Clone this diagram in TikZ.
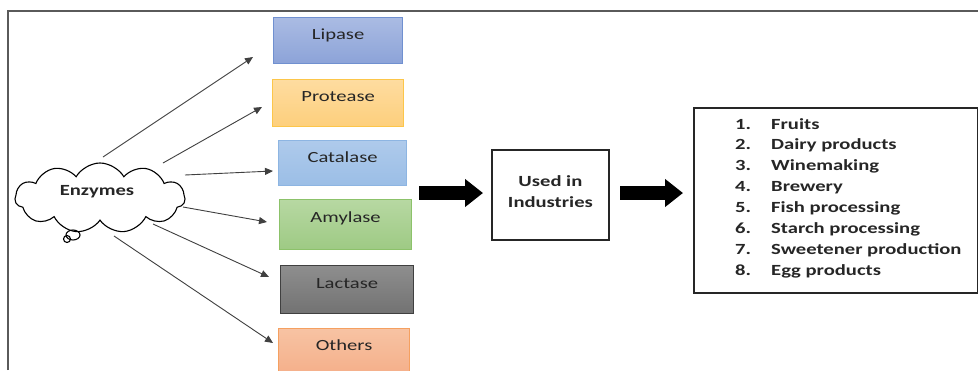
\documentclass[tikz,border=0pt]{standalone}
\usepackage{fontspec}
\setmainfont{Carlito}[FakeStretch=1.33]
\usetikzlibrary{shapes.symbols,arrows.meta,calc}
\definecolor{lipT}{HTML}{AABBE3}\definecolor{lipB}{HTML}{8CA3D8}\definecolor{lipD}{HTML}{7090D0}
\definecolor{proT}{HTML}{FEDCA0}\definecolor{proB}{HTML}{FDCF7C}\definecolor{proD}{HTML}{FCC64A}
\definecolor{catT}{HTML}{AECAEB}\definecolor{catB}{HTML}{9BBEE6}\definecolor{catD}{HTML}{8DB5E2}
\definecolor{amyT}{HTML}{B7D8A2}\definecolor{amyB}{HTML}{9ECA84}\definecolor{amyD}{HTML}{8CC26A}
\definecolor{lacT}{HTML}{8E8E8E}\definecolor{lacB}{HTML}{727272}\definecolor{lacD}{HTML}{404040}
\definecolor{othT}{HTML}{F7C3A3}\definecolor{othB}{HTML}{F4A982}\definecolor{othD}{HTML}{F5A060}
\definecolor{txt}{HTML}{262626}
\definecolor{frame}{HTML}{5A5A5A}
\begin{document}
\begin{tikzpicture}[x=1pt,y=-1pt,
  ebox/.style={line width=1.2pt, anchor=north west, inner sep=0pt},
  elabel/.style={text=txt, font=\fontsize{15.5}{19}\selectfont, inner sep=0pt},
  thin/.style={draw=black!75, line width=0.9pt, -{Triangle[length=8pt,width=7pt]}},
  bigarrow/.style={draw=black, line width=14pt, -{Triangle[length=18pt,width=27pt]}},
  heavybox/.style={draw=black!85, line width=1.8pt, anchor=north west, inner sep=0pt}
]
\useasboundingbox (0,0) rectangle (978,370);
\fill[white] (0,0) rectangle (978,370);
\begin{scope}
\clip (0,0) rectangle (978,370);
% outer frame
\draw[frame, line width=1.5pt] (8,370) -- (8,11) -- (978,11);

% enzyme boxes
\node[ebox, draw=lipD, top color=lipT, bottom color=lipB, minimum width=129pt, minimum height=46pt] (lipase) at (273,17) {};
\node[ebox, draw=proD, top color=proT, bottom color=proB, minimum width=131pt, minimum height=47pt] (protease) at (272,79) {};
\node[ebox, draw=catD, top color=catT, bottom color=catB, minimum width=128pt, minimum height=45pt] (catalase) at (278,140) {};
\node[ebox, draw=amyD, top color=amyT, bottom color=amyB, minimum width=132pt, minimum height=50pt] (amylase) at (279,199) {};
\node[ebox, draw=lacD, top color=lacT, bottom color=lacB, minimum width=133pt, minimum height=48pt] (lactase) at (280,265) {};
\node[ebox, draw=othD, top color=othT, bottom color=othB, minimum width=131pt, minimum height=60pt] (others) at (278,328) {};

\node[elabel] (lipaseT) at ($(lipase.north)+(0,18)$) {Lipase};
\node[elabel] (proteaseT) at ($(protease.north)+(0,18)$) {Protease};
\node[elabel] (catalaseT) at ($(catalase.north)+(0,17)$) {Catalase};
\node[elabel] (amylaseT) at ($(amylase.north)+(0,19)$) {Amylase};
\node[elabel] (lactaseT) at ($(lactase.north)+(0,19)$) {Lactase};
\node[elabel] (othersT) at ($(others.north)+(0,17)$) {Others};

% cloud
\node[cloud, draw=black, line width=1.1pt, cloud puffs=11, cloud puff arc=120, aspect=2.4,
      minimum width=170pt, minimum height=70pt, inner sep=0pt] (cloud) at (100,198) {};
\node[font=\fontsize{15.5}{19}\selectfont\bfseries, text=txt, inner sep=0pt] (enz) at (97,192) {Enzymes};
\draw[black, line width=1.1pt] (73,235) ellipse [x radius=7, y radius=5];
\draw[black, line width=1.1pt] (67,239) circle [radius=3.5];

% thin arrows
\coordinate (s1) at (103,157); \coordinate (e1) at (253,57);
\coordinate (s2) at (163,163); \coordinate (e2) at (262,107);
\coordinate (s3) at (185,175); \coordinate (e3) at (273,171);
\coordinate (s4) at (183,207); \coordinate (e4) at (267,222);
\coordinate (s5) at (153,224); \coordinate (e5) at (269,277);
\coordinate (s6) at (114,236); \coordinate (e6) at (273,343);
\foreach \i in {1,...,6} \draw[thin] (s\i) -- (e\i);

% used in industries
\node[heavybox, minimum width=117pt, minimum height=90pt] (used) at (491,149) {};
\node[font=\fontsize{15.5}{21}\selectfont\bfseries, align=center, text=txt, inner sep=0pt] (usedT) at ($(used.center)+(0,-3)$) {Used in\\Industries};

% list box
\node[heavybox, minimum width=284pt, minimum height=185pt] (list) at (693,107) {};
\foreach \n/\t in {1/Fruits,2/Dairy products,3/Winemaking,4/Brewery,5/Fish processing,6/Starch processing,7/Sweetener production,8/Egg products}
  \node[font=\fontsize{15.5}{19}\selectfont\bfseries, text=txt, inner sep=0pt, anchor=base west] (item\n) at (735,{129+(\n-1)*20.9}) {\makebox[36pt][l]{\n.}\t};

% big arrows
\coordinate (b1) at (419,193);
\draw[bigarrow] (b1) -- ([xshift=-8pt]used.west |- b1);
\coordinate (b2) at (620,193);
\draw[bigarrow] (b2) -- ([xshift=-10pt]list.west |- b2);
\end{scope}
\end{tikzpicture}
\end{document}
